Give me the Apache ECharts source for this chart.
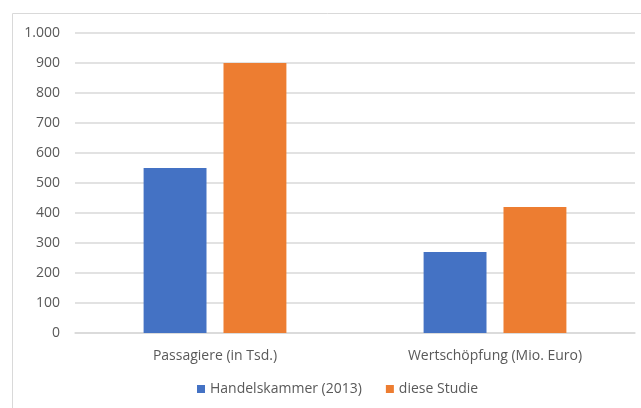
<!DOCTYPE html>
<html><head><meta charset="utf-8">
<script src="https://cdn.jsdelivr.net/npm/echarts@6/dist/echarts.min.js"></script>
<style>html,body{margin:0;padding:0;background:#fff}#c{width:641px;height:408px}</style>
</head><body><div id="c"></div>
<script>
const categories = ["Passagiere (in Tsd.)", "Wertschöpfung (Mio. Euro)"];
const seriesNames = ["Handelskammer (2013)", "diese Studie"];
const handelskammer = [550, 270];
const dieseStudie = [900, 420];
const yTicks = [0, 100, 200, 300, 400, 500, 600, 700, 800, 900, 1000];

const chart = echarts.init(document.getElementById('c'), null, {renderer: 'canvas'});
const font = "'Open Sans', 'Noto Sans', sans-serif";
chart.setOption({
  animation: false,
  textStyle: {fontFamily: font},
  graphic: [{
    type: 'rect', silent: true,
    shape: {x: 12.5, y: 13.5, width: 800, height: 600},
    style: {fill: 'none', stroke: '#d9d9d9', lineWidth: 1}
  }],
  grid: {left: 75, right: 6, top: 33, bottom: 75},
  legend: {
    bottom: 7, left: 192, itemWidth: 8, itemHeight: 8, itemGap: 24,
    icon: 'rect',
    textStyle: {fontFamily: font, fontSize: 14, color: '#595959'},
    data: seriesNames
  },
  xAxis: {
    type: 'category', data: categories,
    axisLine: {show: true, lineStyle: {color: '#d9d9d9', width: 1.5}},
    axisTick: {show: false},
    axisLabel: {fontFamily: font, fontSize: 14, color: '#595959', margin: 16}
  },
  yAxis: {
    type: 'value', min: yTicks[0], max: yTicks[yTicks.length - 1], interval: 100,
    axisLine: {show: false}, axisTick: {show: false},
    splitLine: {lineStyle: {color: '#d9d9d9', width: 1.5}},
    axisLabel: {
      fontFamily: font, fontSize: 14, color: '#595959', margin: 15,
      formatter: v => v >= 1000 ? (Math.floor(v/1000) + '.' + String(v % 1000).padStart(3, '0')) : String(v)
    }
  },
  series: [
    {name: seriesNames[0], type: 'bar', data: handelskammer, itemStyle: {color: '#4472c4'}, barGap: '27%', barCategoryGap: '49%'},
    {name: seriesNames[1], type: 'bar', data: dieseStudie, itemStyle: {color: '#ed7d31'}, barGap: '27%', barCategoryGap: '49%'}
  ]
});
</script></body></html>
